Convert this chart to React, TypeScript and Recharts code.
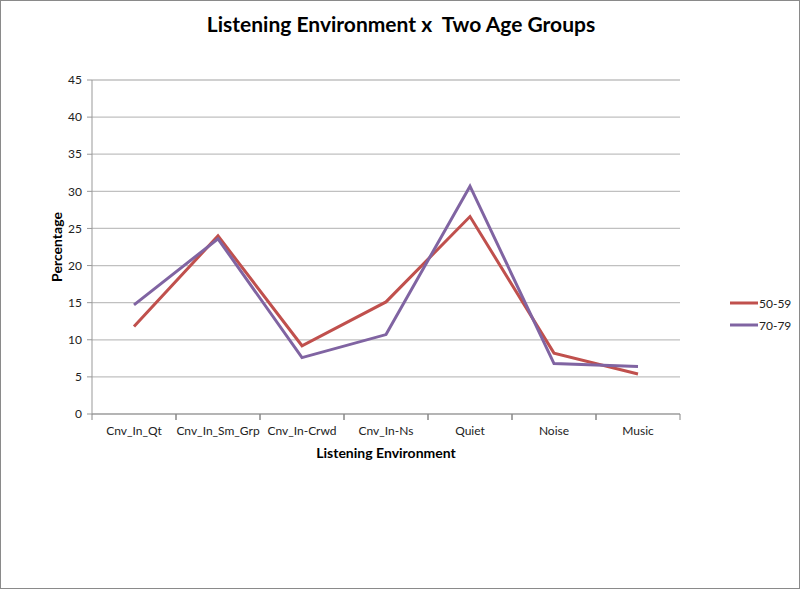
import React from 'react';
import { LineChart, Line, XAxis, YAxis, CartesianGrid, Legend } from 'recharts';

const categories = ['Cnv_In_Qt', 'Cnv_In_Sm_Grp', 'Cnv_In-Crwd', 'Cnv_In-Ns', 'Quiet', 'Noise', 'Music'];
const series5059 = [11.8, 24.0, 9.2, 15.1, 26.6, 8.2, 5.4];
const series7079 = [14.7, 23.6, 7.6, 10.7, 30.7, 6.8, 6.4];
const yTicks = [0, 5, 10, 15, 20, 25, 30, 35, 40, 45];

const data = categories.map((c, i) => ({ name: c, a: series5059[i], b: series7079[i] }));

const FONT = 'Lato, "Open Sans", sans-serif';
const BAND = 84;

const XTick = (props: any) => {
  const { x, y, payload } = props;
  return (
    <g>
      <line x1={x - BAND / 2} y1={y - 8} x2={x - BAND / 2} y2={y - 2} stroke="#888" strokeWidth={1} />
      <line x1={x + BAND / 2} y1={y - 8} x2={x + BAND / 2} y2={y - 2} stroke="#888" strokeWidth={1} />
      <text x={x} y={y + 13} textAnchor="middle" fontSize={12} fill="#222" fontFamily={FONT}>
        {payload.value}
      </text>
    </g>
  );
};

const LegendContent = () => {
  const items = [
    { label: '50-59', color: '#C0504D' },
    { label: '70-79', color: '#8064A2' },
  ];
  return (
    <div style={{ fontFamily: FONT, fontSize: 12, color: '#222' }}>
      {items.map((it) => (
        <div key={it.label} style={{ display: 'flex', alignItems: 'center', height: 22 }}>
          <svg width={28} height={6} style={{ display: 'block' }}>
            <line x1={0} y1={3} x2={28} y2={3} stroke={it.color} strokeWidth={3} />
          </svg>
          <span style={{ marginLeft: 1 }}>{it.label}</span>
        </div>
      ))}
    </div>
  );
};

export default function App() {
  return (
    <div
      style={{
        position: 'absolute',
        left: 0,
        top: 0,
        width: 800,
        height: 589,
        border: '1px solid #8a8a8a',
        boxSizing: 'border-box',
        background: '#fff',
        overflow: 'hidden',
      }}
    >
      <div
        style={{
          position: 'absolute',
          left: 0,
          top: 10,
          width: 800,
          textAlign: 'center',
          fontFamily: FONT,
          fontWeight: 700,
          fontSize: 21,
          color: '#000',
        }}
      >
        Listening Environment x&nbsp; Two Age Groups
      </div>
      <div style={{ position: 'absolute', left: -1, top: -1 }}>
        <LineChart width={800} height={589} data={data} margin={{ top: 80, right: 120, bottom: 125, left: 0 }}>
          <CartesianGrid vertical={false} stroke="#c0c0c0" strokeWidth={1.3} />
          <XAxis
            dataKey="name"
            padding={{ left: BAND / 2, right: BAND / 2 }}
            tickLine={false}
            axisLine={{ stroke: '#999' }}
            tick={<XTick />}
            height={50}
            interval={0}
            label={{
              value: 'Listening Environment',
              position: 'insideBottom',
              offset: 6,
              style: { fontFamily: FONT, fontWeight: 700, fontSize: 14, fill: '#000' },
            }}
          />
          <YAxis
            width={92}
            domain={[0, 45]}
            ticks={yTicks}
            interval={0}
            tickSize={5}
            tickMargin={5}
            axisLine={{ stroke: '#999' }}
            tickLine={{ stroke: '#999' }}
            tick={{ fontFamily: FONT, fontSize: 12, fill: '#222' }}
            label={{
              value: 'Percentage',
              angle: -90,
              position: 'insideLeft',
              offset: 57,
              style: { fontFamily: FONT, fontWeight: 700, fontSize: 14, fill: '#000', textAnchor: 'middle' },
            }}
          />
          <Legend
            layout="horizontal"
            verticalAlign="middle"
            align="center"
            content={<LegendContent />}
            wrapperStyle={{ position: 'absolute', left: 730, top: 292, width: 70 }}
          />
          <Line type="linear" dataKey="a" name="50-59" stroke="#C0504D" strokeWidth={3} dot={false} isAnimationActive={false} />
          <Line type="linear" dataKey="b" name="70-79" stroke="#8064A2" strokeWidth={3} dot={false} isAnimationActive={false} />
        </LineChart>
      </div>
    </div>
  );
}
